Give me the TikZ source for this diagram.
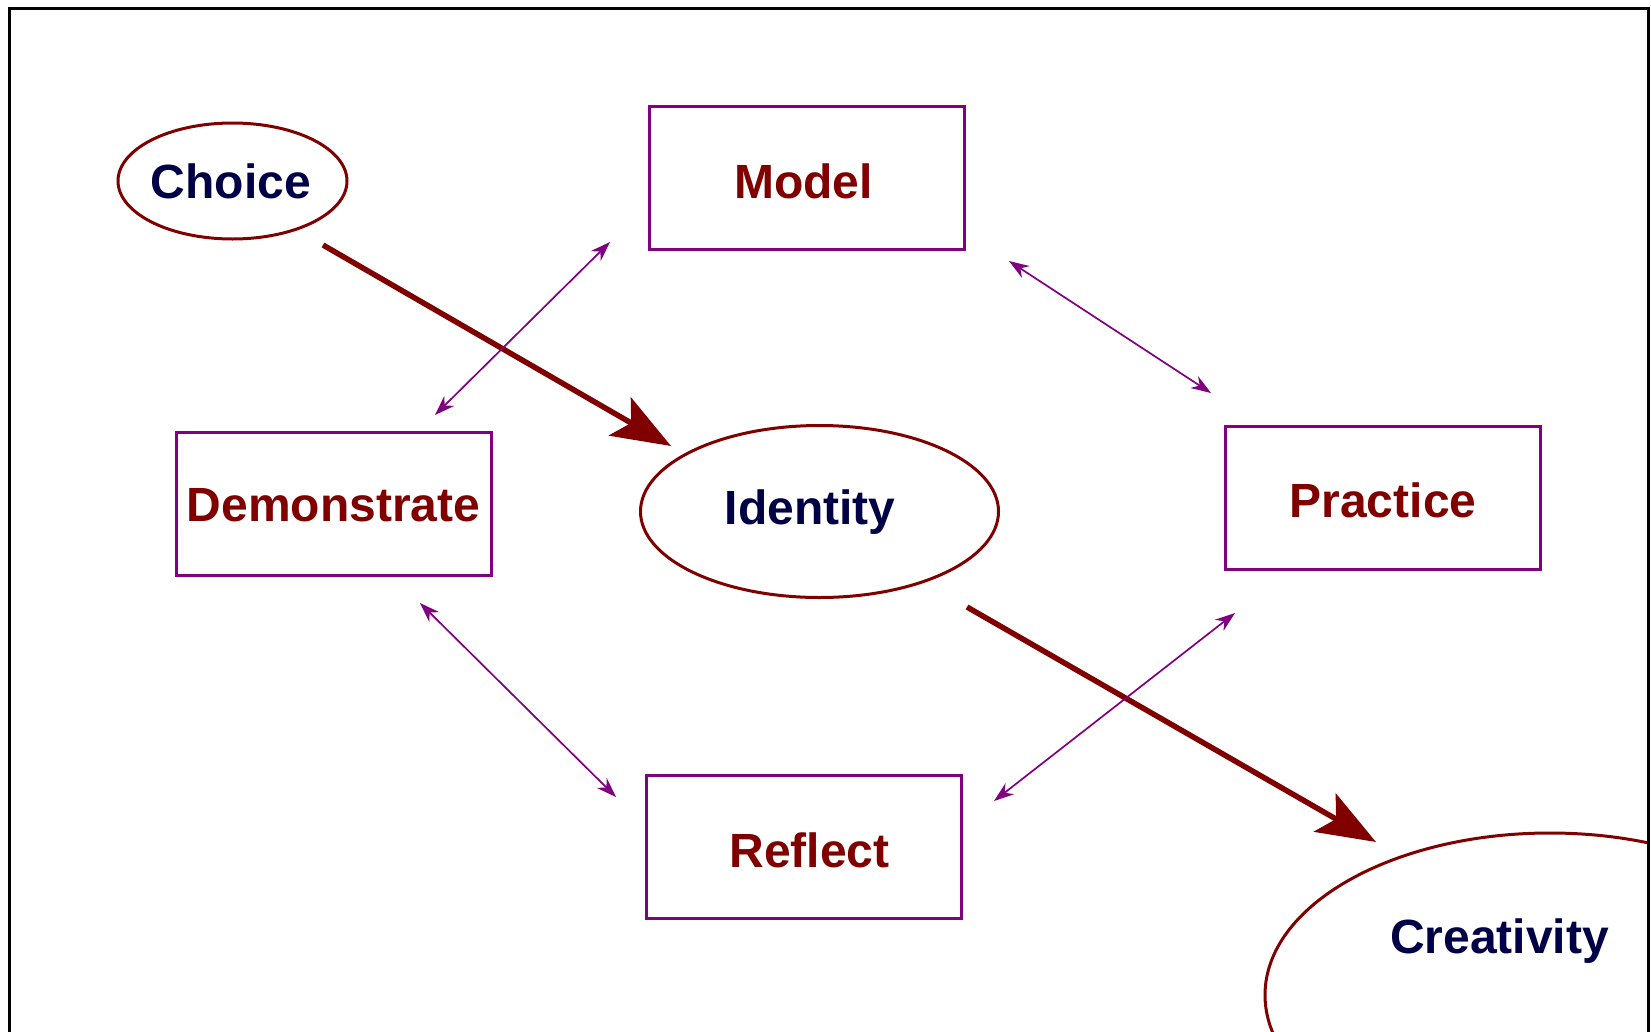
\documentclass[tikz,border=0pt]{standalone}
\usepackage{fontspec}
\setmainfont{Liberation Sans}
\usetikzlibrary{shapes.geometric,arrows.meta}
\definecolor{dred}{HTML}{800000}
\definecolor{purp}{HTML}{800080}
\definecolor{navy}{HTML}{000046}
\begin{document}
\begin{tikzpicture}[x=1pt,y=-1pt,
  lbl/.style={font=\fontsize{48}{56}\selectfont\bfseries,text height=34pt,text depth=0pt},
  box/.style={lbl,draw=purp,line width=3pt,minimum width=315pt,minimum height=143pt,inner sep=0pt,text=dred},
  oval/.style={lbl,draw=dred,line width=3pt,ellipse,inner sep=0pt,text=navy},
  big/.style={draw=dred,line width=5.5pt,-{Stealth[length=59pt,width=44pt,inset=13pt]}},
  thin/.style={draw=purp,line width=1.7pt,{Stealth[length=20pt,width=14pt]}-{Stealth[length=20pt,width=14pt]}}]
\useasboundingbox (0,0) rectangle (1651,1031);
\clip (0,0) rectangle (1651,1031);
\fill[white] (0,0) rectangle (1651,1031);
% frame
\draw[line width=3pt] (9.5,1040) -- (9.5,8.5) -- (1648.5,8.5) -- (1648.5,1040);
% nodes
\node[oval,minimum width=229pt,minimum height=116pt] (choice) at (232.5,181) {\hspace*{-3pt}Choice};
\node[box,text height=41pt] (model) at (807,178) {\hspace*{-7pt}Model};
\node[box] (demo) at (333.5,504) {Demonstrate};
\node[oval,minimum width=358pt,minimum height=172pt,text height=25pt] (identity) at (819.5,511.5) {\hspace*{-19pt}Identity};
\node[box,text height=38pt] (practice) at (1383,498) {Practice};
\node[box,text height=40pt] (reflect) at (804,847) {\hspace*{11pt}Reflect};
\begin{scope}
  \clip (0,0) rectangle (1647,1031);
  \node[oval,minimum width=570pt,minimum height=324pt] (creat) at (1550,995) {};
\end{scope}
\node[lbl,text=navy,inner sep=0pt] (creattext) at (1499.5,936.5) {Creativity};
% connector ends
\coordinate (a1s) at (323,245);
\coordinate (a1e) at (671,446);
\coordinate (a2s) at (967,607);
\coordinate (a2e) at (1376,842);
\coordinate (md1) at (610,242);
\coordinate (md2) at (435,415);
\coordinate (mp1) at (1009,261);
\coordinate (mp2) at (1211,393);
\coordinate (dr1) at (420,603);
\coordinate (dr2) at (616,797);
\coordinate (pr1) at (1235,613);
\coordinate (pr2) at (994,801);
% connectors
\draw[big] (a1s) -- (a1e);
\draw[big] (a2s) -- (a2e);
\draw[thin] (md1) -- (md2);
\draw[thin] (mp1) -- (mp2);
\draw[thin] (dr1) -- (dr2);
\draw[thin] (pr1) -- (pr2);
\end{tikzpicture}
\end{document}
